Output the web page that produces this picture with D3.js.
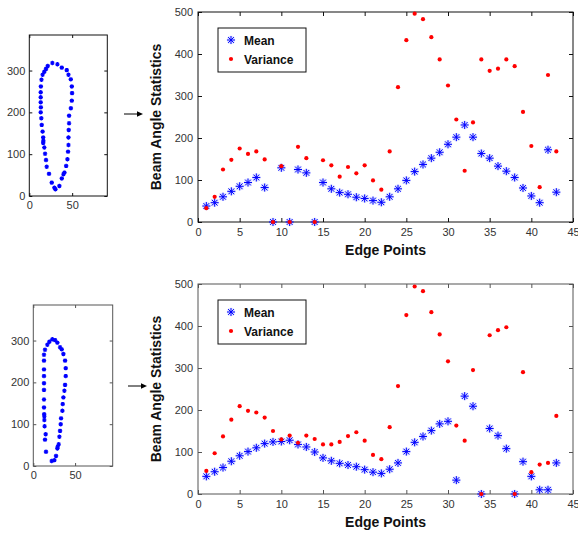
<!DOCTYPE html>
<html>
<head>
<meta charset="utf-8">
<script src="https://cdn.jsdelivr.net/npm/d3@7"></script>
<style>
  html, body { margin: 0; padding: 0; background: #fff; }
  svg { display: block; font-family: "Liberation Sans", Arial, sans-serif; }
</style>
</head>
<body>
<svg id="chart" width="578" height="535"></svg>
<script>
// edge point indices 1..43
const edgePoints = d3.range(1, 44);

// top case: beam angle statistics
const meanTop = [38,46,60,73,85,94,106,82,0,129, 0,125,117,0,94,79,70,66,59,56,
  51,47,60,79,99,120,137,152,166,185, 202,231,202,163,152,133,121,106,81,62, 46,172,71];
const varTop = [33,60,125,148,175,162,168,149,0,133, 0,179,152,0,147,135,108,131,116,135,
  99,77,168,321,433,496,483,440,387,325, 244,122,237,387,360,365,387,371,262,181, 83,350,168];

// bottom case
const meanBot = [42,53,63,78,91,101,110,120,124,125, 128,118,112,100,86,79,73,69,65,58,
  52,49,59,74,101,123,137,151,167,173, 33,233,209,0,156,139,108,0,77,42, 10,10,74];
const varBot = [55,97,137,177,209,198,194,182,150,130, 139,122,139,131,118,118,124,138,147,127,
  93,83,159,257,426,494,483,433,380,316, 163,127,295,0,378,390,397,0,290,52, 70,74,186];

// contour outlines (x, y) of the two shapes
const shapeTop = [
  [26.9,318],[32.8,315],[21.5,311],[37.9,307],[19.5,304],[43.7,301],[17.5,297],[45.7,290],
  [15.5,290],[48.4,279],[14.2,278],[49.6,262],[13.5,262],[49.9,246],[13.3,248],[49.6,228],
  [13.3,236],[48.5,210],[13.3,224],[46.4,192],[13.5,212],[46.4,174],[13.3,200],[46,158],
  [14,186],[45.7,140],[14.5,170],[45.7,122],[15.5,154],[45.2,106],[16.2,140],[44.5,88],
  [16.4,132],[43,72],[16.2,127],[41,56],[17.5,116],[39.8,52],[18.4,101],[37.9,42],
  [19.5,86],[35.1,24],[20.3,70],[23,53],[26.2,32],[29.3,20],[30.5,16]
];
const shapeBot = [
  [22.8,303],[26.0,301],[28.8,295],[19.2,297],[32.0,284],[16.8,290],[34.0,279],[14.0,278],
  [36.0,268],[12.8,266],[38.0,252],[12.8,252],[38.8,234],[12.8,231],[38.8,215],[12.8,215],
  [38.0,194],[12.8,198],[37.2,180],[12.8,182],[36.0,164],[12.8,159],[35.2,148],[12.8,140],
  [34.8,132],[13.0,124],[33.2,114],[13.2,119],[32.8,100],[13.2,110],[32.0,84],[13.5,95],
  [31.2,70],[14.8,76],[30.4,52],[14.0,63],[29.2,46],[28.8,42],[15.2,34],[27.2,24],
  [25.2,14],[22.0,12]
];

const mainTicksX = [0,5,10,15,20,25,30,35,40,45];
const mainTicksY = [0,100,200,300,400,500];
const smallTicksX = [0,50];
const smallTicksY = [0,100,200,300];

const svg = d3.select("#chart");

function asterisk(g, x, y, r, color, w) {
  const d = r * 0.72;
  const p = `M${x - r},${y}H${x + r}M${x},${y - r}V${y + r}` +
    `M${x - d},${y - d}L${x + d},${y + d}M${x - d},${y + d}L${x + d},${y - d}`;
  g.append("path").attr("d", p).attr("stroke", color).attr("stroke-width", w)
    .attr("fill", "none");
}

function boxAxes(g, x, y, xTicks, yTicks, tick, color, fs, padX, padY) {
  const [x0, x1] = x.range();
  const [y0, y1] = y.range();
  g.append("rect").attr("x", x0).attr("y", y1).attr("width", x1 - x0).attr("height", y0 - y1)
    .attr("fill", "#fff").attr("stroke", color).attr("stroke-width", 1);

  const bottom = g.append("g").attr("transform", `translate(0,${y0})`)
    .call(d3.axisBottom(x).tickValues(xTicks).tickSizeInner(-tick).tickSizeOuter(0).tickPadding(padX));
  const top = g.append("g").attr("transform", `translate(0,${y1})`)
    .call(d3.axisTop(x).tickValues(xTicks).tickSizeInner(-tick).tickSizeOuter(0).tickFormat(""));
  const left = g.append("g").attr("transform", `translate(${x0},0)`)
    .call(d3.axisLeft(y).tickValues(yTicks).tickSizeInner(-tick).tickSizeOuter(0).tickPadding(padY));
  const right = g.append("g").attr("transform", `translate(${x1},0)`)
    .call(d3.axisRight(y).tickValues(yTicks).tickSizeInner(-tick).tickSizeOuter(0).tickFormat(""));
  for (const a of [bottom, top, left, right]) {
    a.select(".domain").remove();
    a.selectAll(".tick line").attr("stroke", color);
    a.selectAll("text").attr("fill", "#333").attr("font-size", fs)
      .attr("font-family", "'Liberation Sans', Arial, sans-serif");
  }
}

function drawSmall(shape, left, right, top, bottom, xMax, color) {
  const x = d3.scaleLinear().domain([0, xMax]).range([left, right]);
  const y = d3.scaleLinear().domain([0, 385]).range([bottom, top]);
  const g = svg.append("g");
  boxAxes(g, x, y, smallTicksX, smallTicksY, 3, color, 11, 5, 4);
  const pts = g.append("g");
  shape.forEach(p => asterisk(pts, x(p[0]), y(p[1]), 2.2, "#0000ff", 1.2));
}

function drawMain(mean, vari, top, bottom, color) {
  const x = d3.scaleLinear().domain([0, 45]).range([198, 573]);
  const y = d3.scaleLinear().domain([0, 500]).range([bottom, top]);
  const g = svg.append("g");
  boxAxes(g, x, y, mainTicksX, mainTicksY, 4, color, 11, 6, 5);

  const pts = g.append("g");
  // mean: blue asterisks with soft halo
  edgePoints.forEach((e, i) => {
    asterisk(pts, x(e), y(mean[i]), 4.2, "rgba(90,120,255,0.22)", 2.6);
    asterisk(pts, x(e), y(mean[i]), 4, "#0000ff", 1);
  });
  // variance: red dots
  pts.selectAll("circle").data(vari).enter().append("circle")
    .attr("cx", (d, i) => x(edgePoints[i])).attr("cy", d => y(d))
    .attr("r", 2.1).attr("fill", "#ff0000");

  // axis labels
  g.append("text").attr("x", (198 + 573) / 2).attr("y", bottom + 33)
    .attr("text-anchor", "middle").attr("font-size", 14).attr("font-weight", 700)
    .attr("fill", "#111").text("Edge Points");
  const cy = (top + bottom) / 2;
  g.append("text").attr("transform", `translate(${161},${cy}) rotate(-90)`)
    .attr("text-anchor", "middle").attr("font-size", 14).attr("font-weight", 700)
    .attr("fill", "#111").text("Beam Angle Statistics");

  // legend
  const lg = g.append("g").attr("transform", `translate(218,${top + 16})`);
  lg.append("rect").attr("x", 0).attr("y", 0).attr("width", 88).attr("height", 44)
    .attr("fill", "#fff").attr("stroke", "#111").attr("stroke-width", 1);
  asterisk(lg, 13, 12, 4.2, "rgba(90,120,255,0.22)", 2.6);
  asterisk(lg, 13, 12, 4, "#0000ff", 1);
  lg.append("circle").attr("cx", 13).attr("cy", 31).attr("r", 2.1).attr("fill", "#ff0000");
  lg.append("text").attr("x", 26).attr("y", 16.5).attr("font-size", 12).attr("font-weight", 700)
    .attr("fill", "#111").text("Mean");
  lg.append("text").attr("x", 26).attr("y", 35.5).attr("font-size", 12).attr("font-weight", 700)
    .attr("fill", "#111").text("Variance");
}

function arrow(x1, x2, y) {
  svg.append("line").attr("x1", x1).attr("x2", x2 - 4).attr("y1", y).attr("y2", y)
    .attr("stroke", "#000").attr("stroke-width", 1);
  svg.append("path").attr("d", `M${x2},${y}L${x2 - 6},${y - 2.8}L${x2 - 6},${y + 2.8}Z`)
    .attr("fill", "#000");
}

drawSmall(shapeTop, 29.3, 107.3, 35, 196, 91, "#111");
drawSmall(shapeBot, 33.3, 112.7, 305, 466, 95, "#555");
arrow(124, 143, 114);
arrow(128, 147, 386);
drawMain(meanTop, varTop, 12, 222, "#111");
drawMain(meanBot, varBot, 284, 494, "#555");
</script>
</body>
</html>
